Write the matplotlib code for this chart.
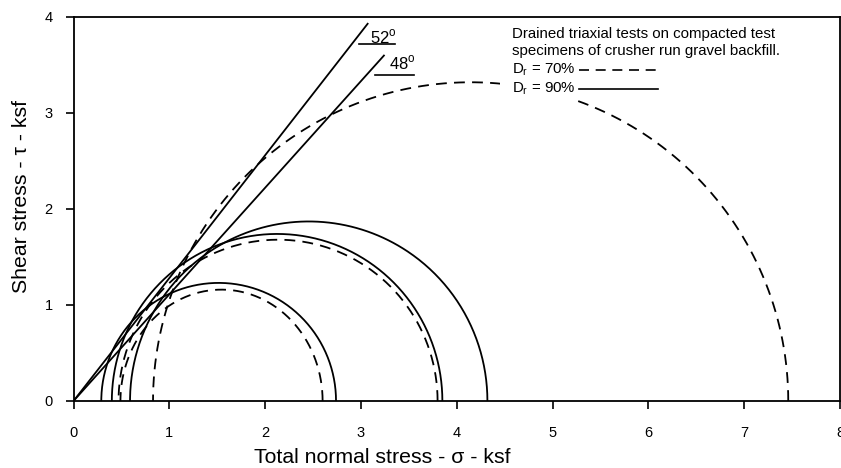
import numpy as np
import matplotlib.pyplot as plt
from matplotlib.patches import Rectangle

plt.rcParams['font.family'] = ['Liberation Sans', 'DejaVu Sans']

# Mohr circles: sigma3, sigma1, peak shear (ksf)
sig3_70 = [0.49, 0.47, 0.83]
sig1_70 = [2.60, 3.80, 7.46]
tau_70 = [1.16, 1.68, 3.32]

sig3_90 = [0.29, 0.40, 0.59]
sig1_90 = [2.74, 3.85, 4.32]
tau_90 = [1.23, 1.74, 1.87]

# failure envelopes (friction angle, end of drawn line on sigma axis)
phi = [52, 48]
x_end = [3.07, 3.24]
lbl_pos = [(3.23, 3.79), (3.43, 3.52)]
ul_x = [(2.98, 3.36), (3.15, 3.55)]
ul_y = [3.72, 3.40]

fig = plt.figure(figsize=(8.41, 4.68), dpi=100)
ax = fig.add_axes([0.0874, 0.1432, 0.9114, 0.8205])

t = np.linspace(0, np.pi, 400)

def mohr(s3, s1, h, ls):
    c = (s1 + s3) / 2
    r = (s1 - s3) / 2
    ax.plot(c + r*np.cos(t), h*np.sin(t), color='black', lw=1.3, ls=ls)

for a, b, h in zip(sig3_70, sig1_70, tau_70):
    mohr(a, b, h, (0, (6, 4)))
for a, b, h in zip(sig3_90, sig1_90, tau_90):
    mohr(a, b, h, '-')

for p, xe, (lx, ly), (u0, u1), uy in zip(phi, x_end, lbl_pos, ul_x, ul_y):
    ax.plot([0, xe], [0, xe*np.tan(np.radians(p))], color='black', lw=1.3)
    ax.text(lx, ly, str(p) + '$^\\mathregular{o}$', fontsize=12, ha='center', va='center')
    ax.plot([u0, u1], [uy, uy], color='black', lw=1.2)

# white patch behind the note, it hides the big circle there
ax.add_patch(Rectangle((0.556, 0.784), 0.38, 0.208, transform=ax.transAxes,
                       facecolor='white', edgecolor='none', zorder=3))

tx = 0.572
fs = 10.8
ax.text(tx, 0.956, 'Drained triaxial tests on compacted test', transform=ax.transAxes,
        fontsize=fs, va='center', zorder=4)
ax.text(tx, 0.911, 'specimens of crusher run gravel backfill.', transform=ax.transAxes,
        fontsize=fs, va='center', zorder=4)
ax.text(tx, 0.862, 'D$_\\mathregular{r}$ = 70%', transform=ax.transAxes, fontsize=fs,
        va='center', zorder=4)
ax.text(tx, 0.8125, 'D$_\\mathregular{r}$ = 90%', transform=ax.transAxes, fontsize=fs,
        va='center', zorder=4)
ax.plot([0.659, 0.762], [0.862, 0.862], transform=ax.transAxes, color='black', lw=1.2,
        ls=(0, (6, 4)), zorder=4)
ax.plot([0.659, 0.762], [0.8125, 0.8125], transform=ax.transAxes, color='black', lw=1.2,
        zorder=4)

ax.set_xlim(0, 8)
ax.set_ylim(0, 4)
ax.set_xticks(range(0, 9))
ax.set_yticks(range(0, 5))
ax.tick_params(direction='out', length=6, width=1.2, labelsize=10.5, pad=12)
ax.tick_params(axis='y', pad=9)
for s in ax.spines.values():
    s.set_linewidth(1.3)

fig.text(0.455, 0.0107, 'Total normal stress - \u03c3 - ksf', fontsize=15.3,
         ha='center', va='baseline')
fig.text(0.026, 0.581, 'Shear stress - \u03c4 - ksf', fontsize=15.3, rotation=90,
         ha='center', va='center')

fig.savefig('out.png', dpi=100)
